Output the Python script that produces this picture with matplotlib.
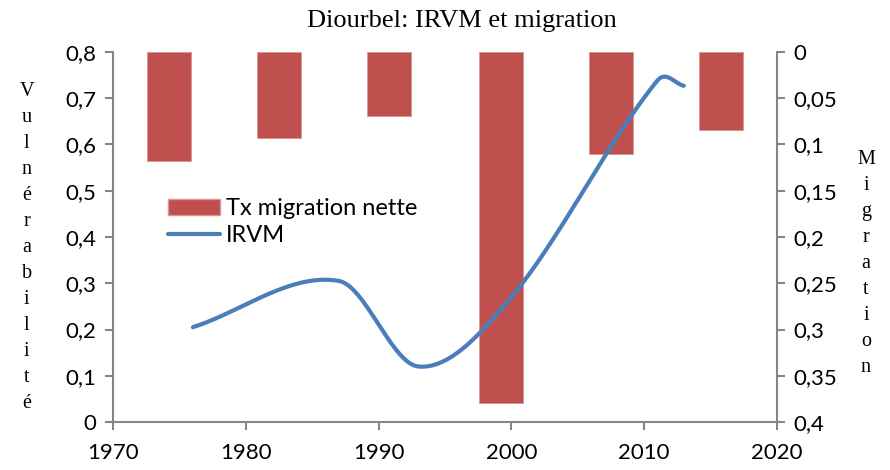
import numpy as np
import matplotlib
matplotlib.use("Agg")
import matplotlib.pyplot as plt
from matplotlib.patches import Patch
from matplotlib.lines import Line2D

# IRVM (vulnerability index), left axis
irvm_years = [1976, 1987, 1993, 2000, 2011, 2013]
irvm_vals = [0.205, 0.305, 0.12, 0.27, 0.738, 0.727]

# net migration rate, right axis (inverted), one bar per period
mig_years = [1974.2, 1982.5, 1990.8, 1999.2, 2007.5, 2015.8]
mig_vals = [0.118, 0.093, 0.069, 0.379, 0.110, 0.084]

left_ticks = [0, 0.1, 0.2, 0.3, 0.4, 0.5, 0.6, 0.7, 0.8]
right_ticks = [0, 0.05, 0.1, 0.15, 0.2, 0.25, 0.3, 0.35, 0.4]
x_ticks = [1970, 1980, 1990, 2000, 2010, 2020]

BAR_COL = "#C0504D"
LINE_COL = "#4A7EBB"
AXIS_COL = "#868686"


def fr(v):
    # french decimal comma
    s = ("%g" % v)
    return s.replace(".", ",")


def smooth(xs, ys, n=40):
    # cubic hermite through the points, tangents from the neighbours
    xs = np.asarray(xs, float)
    ys = np.asarray(ys, float)
    m = np.zeros_like(ys)
    for i in range(len(xs)):
        if i == 0:
            m[i] = (ys[1] - ys[0]) / (xs[1] - xs[0])
        elif i == len(xs) - 1:
            m[i] = (ys[-1] - ys[-2]) / (xs[-1] - xs[-2])
        else:
            m[i] = (ys[i + 1] - ys[i - 1]) / (xs[i + 1] - xs[i - 1])
    px, py = [], []
    for i in range(len(xs) - 1):
        h = xs[i + 1] - xs[i]
        t = np.linspace(0, 1, n)
        h00 = 2 * t**3 - 3 * t**2 + 1
        h10 = t**3 - 2 * t**2 + t
        h01 = -2 * t**3 + 3 * t**2
        h11 = t**3 - t**2
        px.extend(xs[i] + t * h)
        py.extend(h00 * ys[i] + h10 * h * m[i] + h01 * ys[i + 1] + h11 * h * m[i + 1])
    return np.array(px), np.array(py)


plt.rcParams["font.family"] = ["Lato", "DejaVu Sans"]

fig = plt.figure(figsize=(8.9, 4.7), dpi=100)
ax = fig.add_axes([0.1273, 0.1021, 0.7454, 0.7873])
ax2 = ax.twinx()

ax2.bar(mig_years, mig_vals, width=3.3, color=BAR_COL, edgecolor="#D99694", linewidth=0.6)
ax2.set_ylim(0.4, 0)

sx, sy = smooth(irvm_years, irvm_vals)
ax.plot(sx, sy, color=LINE_COL, lw=3, solid_capstyle="round")
ax.set_xlim(1970, 2020)
ax.set_ylim(0, 0.8)

ax.set_zorder(ax2.get_zorder() + 1)
ax.patch.set_visible(False)

ax.set_xticks(x_ticks)
ax.set_yticks(left_ticks)
ax.set_yticklabels([fr(v) for v in left_ticks])
ax2.set_yticks(right_ticks)
ax2.set_yticklabels([fr(v) for v in right_ticks])

for a in (ax, ax2):
    for s in a.spines.values():
        s.set_color(AXIS_COL)
        s.set_linewidth(1.5)
    a.spines["top"].set_visible(False)
    a.tick_params(colors=AXIS_COL, labelcolor="black", labelsize=16, length=6, width=1.5)
ax.spines["right"].set_visible(False)
ax2.spines["left"].set_visible(False)
ax2.spines["bottom"].set_visible(False)
ax.tick_params(axis="y", pad=6)
ax.tick_params(axis="x", pad=9)
ax2.tick_params(axis="y", pad=6)

fig.text(0.519, 0.955, "Diourbel: IRVM et migration", family="Liberation Serif",
         fontsize=19, ha="center", va="center")

# stacked-letter axis titles
fig.text(0.030, 0.473, "\n".join("Vulnérabilité"), family="Liberation Serif",
         fontsize=14.5, ha="center", va="center", linespacing=1.5)
fig.text(0.973, 0.44, "\n".join("Migration"), family="Liberation Serif",
         fontsize=14.5, ha="center", va="center", linespacing=1.5)

handles = [Patch(facecolor=BAR_COL, edgecolor="#D99694"),
           Line2D([0], [0], color=LINE_COL, lw=3, solid_capstyle="round")]
ax.legend(handles, ["Tx migration nette", "IRVM"], loc="upper left",
          bbox_to_anchor=(0.065, 0.636), frameon=False, fontsize=17,
          handlelength=2.2, handleheight=0.63, handletextpad=0.25,
          labelspacing=0.25, borderpad=0)

fig.savefig("out.png", dpi=100)
